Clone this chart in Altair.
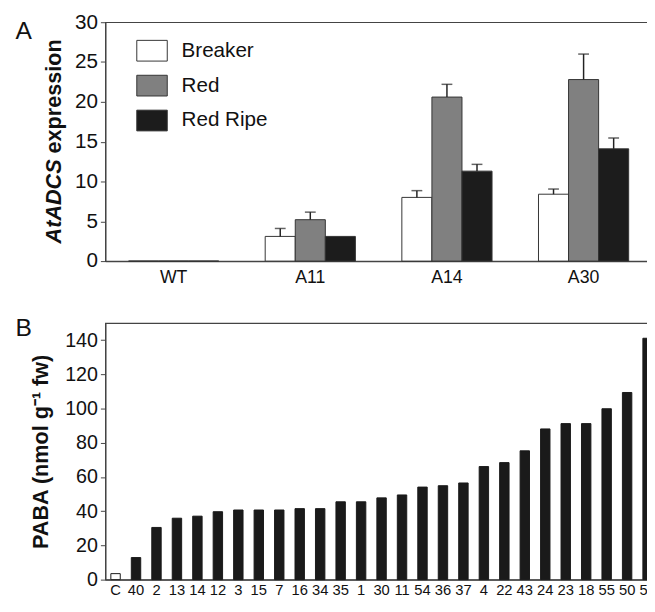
import altair as alt
import pandas as pd

FONT = "Liberation Sans"

# ---------------- Panel A data ----------------
genotypes = ["WT", "A11", "A14", "A30"]
stages = ["Breaker", "Red", "Red Ripe"]
breaker = [0.0, 3.1, 8.0, 8.4]
red = [0.0, 5.2, 20.6, 22.8]
red_ripe = [0.0, 3.1, 11.3, 14.1]
breaker_err = [0.0, 1.0, 0.85, 0.65]
red_err = [0.0, 0.95, 1.6, 3.2]
red_ripe_err = [0.0, 0.0, 0.85, 1.35]
stage_colors = ["#ffffff", "#808080", "#1c1c1c"]

# ---------------- Panel B data ----------------
lines = ["C", "40", "2", "13", "14", "12", "3", "15", "7", "16", "34", "35", "1",
         "30", "11", "54", "36", "37", "4", "22", "43", "24", "23", "18", "55",
         "50", "52"]
paba = [3.5, 12.9, 30.5, 35.9, 37.1, 39.7, 40.7, 40.7, 40.7, 41.5, 41.5, 45.5,
        45.5, 47.8, 49.5, 54.1, 54.9, 56.5, 66.1, 68.4, 75.3, 88.1, 91.2, 91.2,
        99.9, 109.4, 141.1]

rows = []
for s, vals, errs in zip(stages, [breaker, red, red_ripe],
                         [breaker_err, red_err, red_ripe_err]):
    for g, v, e in zip(genotypes, vals, errs):
        rows.append({"genotype": g, "stage": s, "value": v, "top": v + e, "err": e})
df_a = pd.DataFrame(rows)

df_b = pd.DataFrame({
    "line": lines,
    "paba": paba,
    "group": ["control" if l == "C" else "transgenic" for l in lines],
})

# ---------------- Panel A ----------------
xa = alt.X("genotype:N", sort=genotypes,
           scale=alt.Scale(paddingInner=0.34, paddingOuter=0.17),
           axis=alt.Axis(title=None, labelAngle=0, ticks=False, tickSize=0,
                         labelFontSize=18, labelPadding=8))
xoff = alt.XOffset("stage:N", sort=stages,
                   scale=alt.Scale(paddingInner=0, paddingOuter=0))
ya = alt.Y("value:Q", scale=alt.Scale(domain=[0, 30], nice=False),
           axis=alt.Axis(title=None, values=[0, 5, 10, 15, 20, 25, 30],
                         labelFontSize=21, tickSize=5, labelPadding=3))

bars_a = alt.Chart(df_a).mark_bar(stroke="#333333", strokeWidth=1).encode(
    x=xa, xOffset=xoff, y=ya,
    color=alt.Color("stage:N", sort=stages,
                    scale=alt.Scale(domain=stages, range=stage_colors),
                    legend=alt.Legend(title=None, orient="none", legendX=31.5,
                                      legendY=13, symbolType="M-1,-0.68H1V0.68H-1Z",
                                      symbolSize=961, symbolStrokeColor="#333333",
                                      symbolStrokeWidth=1, symbolOpacity=1,
                                      labelFontSize=21, labelOffset=14,
                                      rowPadding=6.5, padding=0, labelColor="#111111",
                                      labelFont=FONT)),
)

err_rule = alt.Chart(df_a).transform_filter("datum.err > 0").mark_rule(
    color="#222222", strokeWidth=1.5).encode(
    x=xa, xOffset=xoff, y="value:Q", y2="top:Q")
err_cap = alt.Chart(df_a).transform_filter("datum.err > 0").mark_tick(
    color="#222222", thickness=1.5, size=11).encode(
    x=xa, xOffset=xoff, y="top:Q")

title_a1 = alt.Chart(pd.DataFrame({"t": ["AtADCS"]})).mark_text(
    font=FONT, fontSize=22, fontWeight="bold", fontStyle="italic", angle=270,
    align="right", baseline="middle", color="#111111").encode(
    text="t:N", x=alt.value(-52), y=alt.value(139.5))
title_a2 = alt.Chart(pd.DataFrame({"t": ["expression"]})).mark_text(
    font=FONT, fontSize=22, fontWeight="bold", angle=270,
    align="left", baseline="middle", color="#111111").encode(
    text="t:N", x=alt.value(-52), y=alt.value(133.5))
label_a = alt.Chart(pd.DataFrame({"t": ["A"]})).mark_text(
    font=FONT, fontSize=25, align="center", baseline="alphabetic",
    color="#111111").encode(text="t:N", x=alt.value(-83), y=alt.value(17))

panel_a = alt.layer(bars_a, err_rule, err_cap, title_a1, title_a2, label_a).properties(
    width=556, height=243)

# ---------------- Panel B ----------------
xb = alt.X("line:N", sort=lines,
           scale=alt.Scale(paddingInner=0.54, paddingOuter=0.27),
           axis=alt.Axis(title=None, labelAngle=0, ticks=False, tickSize=0,
                         labelFontSize=15, labelPadding=3.5, labelOverlap=False))
yb = alt.Y("paba:Q", scale=alt.Scale(domain=[0, 150], nice=False),
           axis=alt.Axis(title="PABA (nmol g\u207b\u00b9 fw)",
                         values=[0, 20, 40, 60, 80, 100, 120, 140],
                         labelFontSize=20, tickSize=5, labelPadding=3,
                         titleFontSize=22, titleFontWeight="bold",
                         titlePadding=12, titleColor="#111111"))
bars_b = alt.Chart(df_b).mark_bar(stroke="#1a1a1a", strokeWidth=1).encode(
    x=xb, y=yb,
    color=alt.Color("group:N", scale=alt.Scale(domain=["control", "transgenic"],
                                                range=["#ffffff", "#1a1a1a"]),
                    legend=None),
)
label_b = alt.Chart(pd.DataFrame({"t": ["B"]})).mark_text(
    font=FONT, fontSize=25, align="center", baseline="alphabetic",
    color="#111111").encode(text="t:N", x=alt.value(-83), y=alt.value(13))

panel_b = alt.layer(bars_b, label_b).properties(width=562, height=261)

chart = alt.vconcat(panel_a, panel_b, spacing=28).resolve_scale(
    color="independent"
).properties(
    padding={"top": -2.6, "left": 7, "right": -12, "bottom": -7.5}
).configure_view(
    stroke="#444444", strokeWidth=1.2
).configure_axis(
    labelFont=FONT, titleFont=FONT, labelColor="#111111",
    domainColor="#444444", tickColor="#444444", grid=False, domainWidth=1.2
)

chart.save("out.html", embed_options={"renderer": "svg", "actions": False})
